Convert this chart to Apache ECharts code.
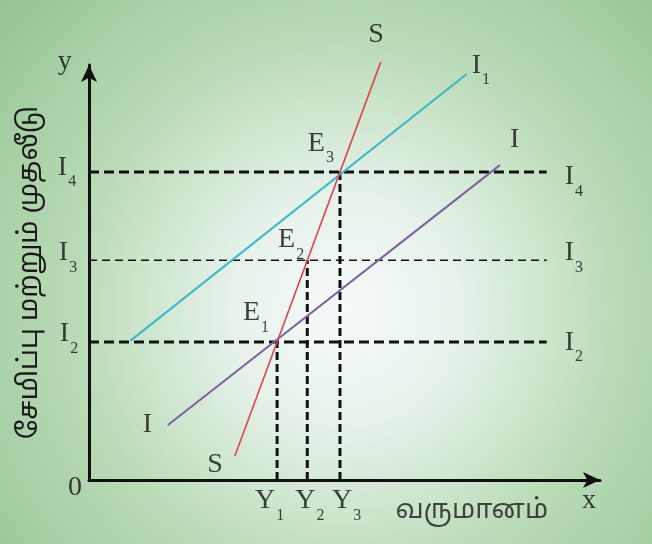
<!DOCTYPE html>
<html>
<head>
<meta charset="utf-8">
<script src="https://cdn.jsdelivr.net/npm/echarts@6/dist/echarts.min.js"></script>
<style>
  html, body { margin: 0; padding: 0; background: #fff; }
  #main { width: 652px; height: 544px; }
</style>
</head>
<body>
<div id="main"></div>
<script>
// income (Y) and saving/investment (I) levels at the three equilibria
var incomeLevels = [37.4, 43.4, 49.9];
var investLevels = [33.9, 54.0, 75.7];
var dashEnd = 91;

// curves, two end points each
var savingCurve = [[29.0, 5.9], [58.0, 102.7]];
var investCurve1 = [[8.2, 34.2], [75.1, 99.8]];
var investCurve = [[15.7, 13.5], [81.7, 77.4]];

// text labels: [x, y, text]  ('|' splits off the subscript)
var textLabels = [
  [-6.2, 106.2, 'y'],
  [-4.2, 1.5, '0'],
  [-6.2, 80.3, 'I|4'],
  [-6.0, 59.2, 'I|3'],
  [-5.8, 39.3, 'I|2'],
  [94.6, 77.9, 'I|4'],
  [94.6, 59.2, 'I|3'],
  [94.6, 37.3, 'I|2'],
  [55.5, 112.8, 'S'],
  [76.1, 105.4, 'I|1'],
  [83.7, 87.0, 'I'],
  [43.5, 86.2, 'E|3'],
  [37.6, 62.4, 'E|2'],
  [30.6, 44.5, 'E|1'],
  [10.7, 17.0, 'I'],
  [23.5, 7.1, 'S'],
  [33.0, -1.7, 'Y|1'],
  [41.0, -1.7, 'Y|2'],
  [48.3, -1.7, 'Y|3'],
  [98.0, -1.7, 'x']
];
var xTitle = [76.1, -7.9, 'வருமானம்'];
var yTitle = 'சேமிப்பு மற்றும் முதலீடு';

var serif = '"Liberation Serif", "Times New Roman", serif';
var tamil = '"Noto Sans Tamil", "Lohit Tamil", "Noto Sans", sans-serif';
var ink = '#111';

var chart = echarts.init(document.getElementById('main'));

var series = [];

// horizontal dashed guides from the y axis
investLevels.forEach(function (v, i) {
  series.push({
    type: 'line',
    data: [[0, v], [dashEnd, v]],
    symbol: 'none',
    silent: true,
    lineStyle: { color: ink, width: i === 1 ? 1.6 : 3, type: i === 1 ? [8, 5] : [10, 5] }
  });
});

// vertical dashed guides down to the x axis
incomeLevels.forEach(function (v, i) {
  series.push({
    type: 'line',
    data: [[v, 0], [v, investLevels[i]]],
    symbol: 'none',
    silent: true,
    lineStyle: { color: ink, width: 3, type: [8, 4] }
  });
});

series.push({
  type: 'line', data: investCurve1, symbol: 'none', clip: false,
  lineStyle: { color: '#3bb7cb', width: 2 }
});
series.push({
  type: 'line', data: investCurve, symbol: 'none', clip: false,
  lineStyle: { color: '#7d619c', width: 2 }
});
series.push({
  type: 'line', data: savingCurve, symbol: 'none', clip: false,
  lineStyle: { color: '#e0434f', width: 1.6 }
});

series.push({
  type: 'scatter',
  data: textLabels,
  symbolSize: 0,
  clip: false,
  silent: true,
  label: {
    show: true,
    position: [0, 0],
    align: 'left',
    verticalAlign: 'top',
    formatter: function (p) {
      var t = p.data[2].split('|');
      return '{b|' + t[0] + '}' + (t[1] ? '{s|' + t[1] + '}' : '');
    },
    rich: {
      b: { fontFamily: serif, fontSize: 28, lineHeight: 28, color: ink, verticalAlign: 'top' },
      s: { fontFamily: serif, fontSize: 16, lineHeight: 16, color: ink, verticalAlign: 'top', padding: [21, 0, 0, 1] }
    }
  }
});

series.push({
  type: 'scatter',
  data: [xTitle],
  symbolSize: 0,
  clip: false,
  silent: true,
  label: {
    show: true,
    position: [0, 0],
    align: 'center',
    verticalAlign: 'middle',
    formatter: function (p) { return p.data[2]; },
    fontFamily: tamil,
    fontSize: 27,
    color: '#1a1a1a'
  }
});

var axisBase = {
  type: 'value',
  min: 0,
  axisLabel: { show: false },
  axisTick: { show: false },
  splitLine: { show: false },
  axisLine: {
    show: true,
    symbol: ['none', 'arrow'],
    symbolSize: [12, 17],
    lineStyle: { color: ink, width: 3 }
  }
};

chart.setOption({
  backgroundColor: {
    type: 'radial', x: 0.53, y: 0.57, r: 0.85,
    colorStops: [
      { offset: 0, color: '#f5fafa' },
      { offset: 0.25, color: '#e6f2ea' },
      { offset: 0.6, color: '#b8dab5' },
      { offset: 1, color: '#96c493' }
    ]
  },
  animation: false,
  grid: { left: 89, right: 52, top: 65, bottom: 64 },
  xAxis: Object.assign({}, axisBase, { max: 101.6 }),
  yAxis: Object.assign({}, axisBase, {
    max: 102,
    name: yTitle,
    nameLocation: 'middle',
    nameRotate: 90,
    nameGap: 44,
    nameTextStyle: { fontFamily: tamil, fontSize: 27, color: '#1a1a1a' }
  }),
  series: series
});
</script>
</body>
</html>
